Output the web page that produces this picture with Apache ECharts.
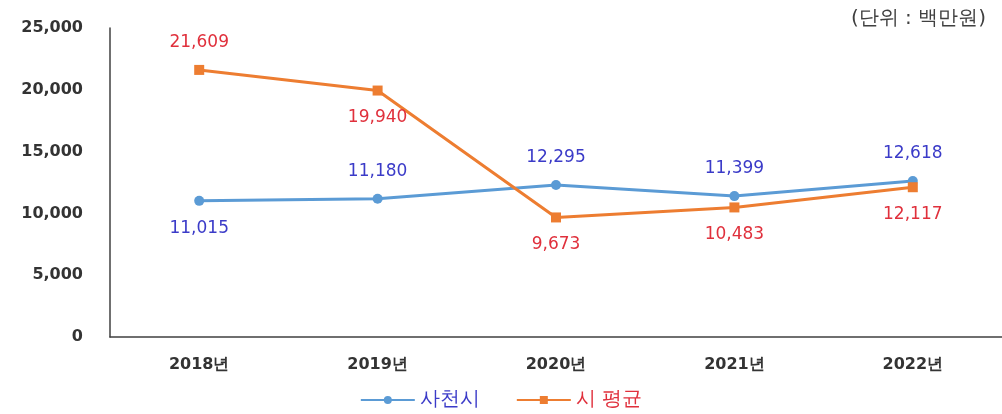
<!DOCTYPE html>
<html><head><meta charset="utf-8">
<script src="https://cdn.jsdelivr.net/npm/echarts@6/dist/echarts.min.js"></script>
<style>html,body{margin:0;padding:0;background:#fff;}#c{width:1002px;height:414px;}</style>
</head><body><div id="c"></div>
<script>
const categories = ['2018년','2019년','2020년','2021년','2022년'];
const sacheon = [11015, 11180, 12295, 11399, 12618];
const cityAvg = [21609, 19940, 9673, 10483, 12117];
const sacheonLabelPos = ['bottom','top','top','top','top'];
const cityLabelPos = ['top','bottom','bottom','bottom','bottom'];
const yTicks = [0, 5000, 10000, 15000, 20000, 25000];

const fontFam = 'DejaVu Sans';
const fmt = v => v.toLocaleString('en-US');

function mkData(vals, pos, color) {
  return vals.map((v, i) => ({
    value: v,
    label: { position: pos[i], color: color }
  }));
}

const chart = echarts.init(document.getElementById('c'));
chart.setOption({
  backgroundColor: '#fff',
  animation: false,
  textStyle: { fontFamily: fontFam },
  graphic: [{
    type: 'text', right: 16, top: 9,
    style: { text: '(단위 : 백만원)', fontSize: 20, fontFamily: fontFam, fill: '#404040' }
  }],
  legend: {
    bottom: -1, left: 'center', itemWidth: 54, itemHeight: 10, itemGap: 36,
    textStyle: { fontSize: 20, fontFamily: fontFam },
    data: [
      { name: '사천시', textStyle: { color: '#3b3bc8' } },
      { name: '시 평균', textStyle: { color: '#e0303c' } }
    ]
  },
  grid: { left: 110, right: -14, top: 28, bottom: 77 },
  xAxis: {
    type: 'category', data: categories, boundaryGap: true,
    axisLine: { lineStyle: { color: '#404040', width: 1.5 } },
    axisTick: { show: false },
    axisLabel: { color: '#333', fontSize: 16, fontWeight: 'bold', margin: 20, fontFamily: fontFam }
  },
  yAxis: {
    type: 'value', min: 0, max: 25000, interval: 5000,
    axisLine: { show: true, lineStyle: { color: '#404040', width: 1.5 } },
    axisTick: { show: false },
    splitLine: { show: false },
    axisLabel: {
      color: '#333', fontSize: 16, fontWeight: 'bold', margin: 27, fontFamily: fontFam,
      formatter: v => yTicks.includes(v) ? fmt(v) : ''
    }
  },
  series: [
    {
      name: '사천시', type: 'line', data: mkData(sacheon, sacheonLabelPos, '#3b3bc8'),
      symbol: 'circle', symbolSize: 10,
      lineStyle: { color: '#5b9bd5', width: 3 },
      itemStyle: { color: '#5b9bd5' },
      label: { show: true, fontSize: 17, distance: 14, fontFamily: fontFam, formatter: p => fmt(p.value) }
    },
    {
      name: '시 평균', type: 'line', data: mkData(cityAvg, cityLabelPos, '#e0303c'),
      symbol: 'rect', symbolSize: 10,
      lineStyle: { color: '#ed7d31', width: 3 },
      itemStyle: { color: '#ed7d31' },
      label: { show: true, fontSize: 17, distance: 14, fontFamily: fontFam, formatter: p => fmt(p.value) }
    }
  ]
});
</script></body></html>
